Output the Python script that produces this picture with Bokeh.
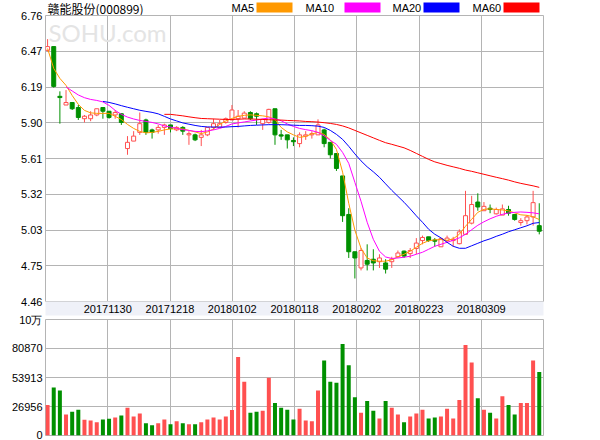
import numpy as np
from bokeh.plotting import figure
from bokeh.models import ColumnDataSource, FixedTicker, Label, Range1d
from bokeh.core.properties import value
from bokeh.layouts import column
from bokeh.embed import file_html
from bokeh.resources import INLINE

TITLE = "赣能股份(000899)"
MA_NAMES = ["MA5", "MA10", "MA20", "MA60"]
DATE_TICK_LABELS = ["20171130", "20171218", "20180102", "20180118", "20180202", "20180223", "20180309"]
PRICE_TICKS = [4.46, 4.7475, 5.035, 5.3225, 5.61, 5.8975, 6.185, 6.4725, 6.76]
PRICE_TICK_LABELS = ["4.46", "4.75", "5.03", "5.32", "5.61", "5.90", "6.19", "6.47", "6.76"]
VOL_TICKS = [0, 26956, 53913, 80870, 107826]
VOL_TICK_LABELS = ["0", "26956", "53913", "80870", "10万"]

OPEN = [6.48, 6.51, 6.11, 6.04, 6.06, 6.02, 5.93, 5.93, 5.96, 6.02,
        5.99, 5.96, 5.97, 5.69, 5.75, 5.82, 5.92, 5.84, 5.84, 5.86,
        5.88, 5.84, 5.86, 5.80, 5.80, 5.78, 5.80, 5.86, 5.86, 5.90,
        5.92, 5.93, 5.935, 5.98, 5.97, 5.89, 5.90, 6.01, 5.80, 5.80,
        5.755, 5.73, 5.79, 5.80, 5.80, 5.84, 5.74, 5.65, 5.47, 5.16,
        4.86, 4.73, 4.79, 4.80, 4.78, 4.77, 4.78, 4.82, 4.865, 4.845,
        4.886, 4.95, 4.98, 4.955, 4.90, 4.95, 4.95, 4.925, 5.00, 5.09,
        5.26, 5.19, 5.21, 5.165, 5.155, 5.20, 5.16, 5.095, 5.11, 5.14,
        5.07]
CLOSE = [6.51, 6.19, 6.10, 6.06, 6.01, 5.94, 5.95, 5.96, 6.01, 5.99,
         5.94, 5.98, 5.90, 5.74, 5.79, 5.89, 5.82, 5.82, 5.86, 5.88,
         5.85, 5.86, 5.83, 5.81, 5.76, 5.80, 5.86, 5.89, 5.89, 5.93,
         6.00, 5.95, 5.975, 5.93, 5.95, 5.925, 6.005, 5.80, 5.79, 5.76,
         5.745, 5.80, 5.80, 5.81, 5.88, 5.73, 5.64, 5.53, 5.15, 4.86,
         4.81, 4.87, 4.76, 4.77, 4.81, 4.72, 4.80, 4.85, 4.825, 4.87,
         4.93, 4.975, 4.95, 4.945, 4.965, 4.97, 4.96, 5.02, 5.15, 5.24,
         5.22, 5.225, 5.20, 5.20, 5.205, 5.17, 5.12, 5.11, 5.14, 5.255,
         5.025]
HIGH = [6.57, 6.51, 6.15, 6.16, 6.06, 6.04, 5.96, 5.99, 6.01, 6.02,
        5.99, 6.00, 5.97, 5.79, 5.83, 5.98, 5.93, 5.85, 5.88, 5.89,
        5.88, 5.87, 5.87, 5.83, 5.81, 5.84, 5.86, 5.93, 5.92, 5.94,
        6.04, 6.00, 5.99, 5.99, 5.98, 5.93, 6.01, 6.01, 5.84, 5.80,
        5.78, 5.82, 5.83, 5.83, 5.925, 5.85, 5.74, 5.65, 5.47, 5.21,
        4.86, 4.89, 4.92, 4.88, 4.84, 4.80, 4.82, 4.87, 4.87, 4.89,
        4.97, 4.99, 4.98, 4.97, 4.97, 4.99, 4.98, 5.04, 5.35, 5.31,
        5.33, 5.26, 5.24, 5.215, 5.24, 5.23, 5.16, 5.13, 5.155, 5.35,
        5.25]
LOW = [6.47, 6.18, 5.89, 6.04, 6.00, 5.92, 5.90, 5.91, 5.95, 5.93,
       5.93, 5.93, 5.88, 5.64, 5.75, 5.80, 5.80, 5.77, 5.81, 5.80,
       5.82, 5.83, 5.80, 5.72, 5.75, 5.71, 5.79, 5.84, 5.86, 5.89,
       5.92, 5.86, 5.935, 5.92, 5.88, 5.84, 5.89, 5.72, 5.76, 5.69,
       5.71, 5.70, 5.76, 5.77, 5.80, 5.70, 5.61, 5.51, 5.10, 4.81,
       4.645, 4.71, 4.71, 4.71, 4.73, 4.685, 4.73, 4.81, 4.81, 4.81,
       4.84, 4.92, 4.94, 4.90, 4.90, 4.93, 4.90, 4.92, 5.00, 5.08,
       5.19, 5.19, 5.17, 5.16, 5.155, 5.15, 5.11, 5.07, 5.08, 5.07,
       5.00]
VOLUME = [28423, 44596, 41900, 19438, 22133, 23930, 14646, 14047, 12250, 14945,
          15544, 16742, 18539, 25727, 17641, 20336, 11351, 9554, 11351, 14945,
          10453, 13148, 11351, 10453, 10453, 12250, 14945, 16742, 14945, 17641,
          23631, 73048, 49987, 21235, 22133, 23032, 53581, 30220, 25727, 23930,
          14945, 24829, 14047, 13148, 41900, 69754, 49987, 49088, 85028, 65261,
          35611, 21235, 32017, 23032, 15844, 32017, 25727, 19438, 12250, 17641,
          20336, 23930, 15844, 16742, 17641, 24829, 15844, 32915, 84130, 67957,
          34712, 23930, 21235, 15844, 36509, 28423, 19438, 30220, 30220, 69754,
          58972]
MA5 = [6.495, 6.334, 6.254, 6.198, 6.117, 6.045, 5.997, 5.977, 5.973, 5.973,
       5.973, 5.949, 5.924, 5.884, 5.852, 5.828, 5.816, 5.820, 5.828, 5.840,
       5.848, 5.848, 5.848, 5.836, 5.824, 5.810, 5.824, 5.848, 5.884, 5.912,
       5.932, 5.949, 5.957, 5.961, 5.957, 5.953, 5.945, 5.924, 5.860, 5.824,
       5.800, 5.780, 5.788, 5.808, 5.820, 5.804, 5.760, 5.683, 5.500, 5.250,
       5.033, 4.888, 4.810, 4.788, 4.784, 4.784, 4.796, 4.820, 4.840, 4.864,
       4.896, 4.928, 4.948, 4.956, 4.958, 4.952, 4.964, 5.001, 5.065, 5.121,
       5.177, 5.201, 5.205, 5.200, 5.196, 5.189, 5.173, 5.157, 5.153, 5.141,
       5.119]
MA10 = [None, None, None, 6.186, 6.153, 6.121, 6.099, 6.085, 6.077, 6.065,
        6.037, 5.997, 5.965, 5.943, 5.928, 5.916, 5.908, 5.900, 5.888, 5.872,
        5.863, 5.852, 5.842, 5.836, 5.828, 5.826, 5.832, 5.840, 5.852, 5.868,
        5.888, 5.896, 5.904, 5.912, 5.919, 5.928, 5.936, 5.928, 5.914, 5.888,
        5.868, 5.852, 5.842, 5.834, 5.820, 5.792, 5.756, 5.724, 5.659, 5.571,
        5.418, 5.266, 5.097, 4.960, 4.864, 4.818, 4.806, 4.810, 4.816, 4.824,
        4.840, 4.856, 4.880, 4.904, 4.920, 4.936, 4.952, 4.972, 5.001, 5.037,
        5.073, 5.101, 5.125, 5.145, 5.161, 5.172, 5.177, 5.180, 5.177, 5.173,
        5.165]
MA20 = [None, None, None, None, None, None, None, None, None, 6.069,
        6.061, 6.049, 6.035, 6.022, 6.010, 5.998, 5.989, 5.981, 5.969, 5.949,
        5.928, 5.912, 5.896, 5.886, 5.876, 5.868, 5.864, 5.863, 5.863, 5.863,
        5.866, 5.868, 5.872, 5.876, 5.878, 5.880, 5.882, 5.882, 5.882, 5.880,
        5.878, 5.876, 5.876, 5.874, 5.870, 5.860, 5.836, 5.804, 5.764, 5.708,
        5.647, 5.591, 5.543, 5.503, 5.459, 5.406, 5.354, 5.306, 5.258, 5.205,
        5.149, 5.097, 5.041, 5.001, 4.972, 4.936, 4.904, 4.888, 4.888, 4.908,
        4.928, 4.948, 4.964, 4.984, 5.001, 5.021, 5.037, 5.053, 5.069, 5.089,
        5.095]
MA60 = [None, None, None, None, None, None, None, None, None, None,
        None, None, None, None, None, None, None, None, None, 5.965,
        5.965, 5.959, 5.953, 5.945, 5.938, 5.932, 5.930, 5.928, 5.926, 5.924,
        5.924, 5.926, 5.928, 5.928, 5.926, 5.924, 5.922, 5.920, 5.919, 5.916,
        5.914, 5.912, 5.908, 5.906, 5.903, 5.898, 5.892, 5.884, 5.872, 5.856,
        5.836, 5.816, 5.796, 5.776, 5.756, 5.737, 5.724, 5.710, 5.696, 5.675,
        5.651, 5.627, 5.603, 5.583, 5.569, 5.555, 5.543, 5.531, 5.517, 5.507,
        5.495, 5.483, 5.471, 5.459, 5.448, 5.436, 5.422, 5.410, 5.400, 5.390,
        5.378]

# ---- styles ----
RED = "#ff5050"
GREEN = "#009000"
MA_COLORS = ["#ff9900", "#ff00ff", "#0000ff", "#ff0000"]
GRID = "#b4b4b4"
BAND = "#eff1f8"
NUM_FONT = "Liberation Sans"
CJK_FONT = "Noto Sans CJK SC"

N = len(CLOSE)
idx = list(range(N))
up = [c >= o for o, c in zip(OPEN, CLOSE)]
col = [RED if u else GREEN for u in up]
fill = ["#ffffff" if u else GREEN for u in up]
src = ColumnDataSource(dict(
    x=idx, high=HIGH, low=LOW,
    top=[max(o, c) for o, c in zip(OPEN, CLOSE)],
    bottom=[min(o, c) for o, c in zip(OPEN, CLOSE)],
    color=col, fill=fill, vol=VOLUME))

X_START, X_END = -0.34, 80.69
STEP = (X_END - X_START) / 8
X_GRID = [X_START + k * STEP for k in range(1, 8)]
xr = Range1d(X_START, X_END)


def style_axis(ax):
    ax.axis_line_color = None
    ax.major_tick_out = 0
    ax.major_tick_in = 0
    ax.minor_tick_out = 0
    ax.minor_tick_in = 0
    ax.major_label_text_font = NUM_FONT
    ax.major_label_text_font_size = "11px"
    ax.major_label_text_color = "black"
    ax.major_label_standoff = 3


# ---- header strip: title and legend (pixel-like coordinates of the strip) ----
p0 = figure(frame_width=498, frame_height=15, x_range=Range1d(45, 543), y_range=Range1d(15, 0),
            output_backend="svg", toolbar_location=None,
            min_border_left=45, min_border_right=57, min_border_top=0, min_border_bottom=0,
            x_axis_location=None, y_axis_location=None)
p0.grid.visible = False
p0.outline_line_color = None
p0.text(x=[47], y=[7.5], text=[TITLE], text_font=value(CJK_FONT), text_font_size="12px",
        text_baseline="middle", text_align="left", text_color="black")
LEG_TEXT_X = [231, 305, 392, 472]
LEG_LEFT = [256, 344, 423, 503]
LEG_RIGHT = [292, 380, 459, 539]
p0.text(x=LEG_TEXT_X, y=[7.5] * 4, text=MA_NAMES, text_font=value(NUM_FONT), text_font_size="11px",
        text_baseline="middle", text_align="left", text_color="black")
p0.quad(left=LEG_LEFT, right=LEG_RIGHT, top=[2] * 4, bottom=[12] * 4,
        fill_color=MA_COLORS, line_color=None)

# ---- price panel ----
p1 = figure(frame_width=498, frame_height=286, x_range=xr, y_range=Range1d(4.46, 6.76),
            output_backend="svg", toolbar_location=None,
            min_border_left=45, min_border_right=57, min_border_top=6, min_border_bottom=18)
p1.margin = (-6, 0, 0, 0)
p1.border_fill_color = None
p1.outline_line_color = GRID
p1.xgrid.ticker = FixedTicker(ticks=X_GRID)
p1.ygrid.ticker = FixedTicker(ticks=PRICE_TICKS)
p1.grid.grid_line_color = GRID
style_axis(p1.xaxis[0])
style_axis(p1.yaxis[0])
p1.yaxis.ticker = FixedTicker(ticks=PRICE_TICKS)
p1.yaxis.major_label_overrides = dict(zip(PRICE_TICKS, PRICE_TICK_LABELS))
p1.xaxis.ticker = FixedTicker(ticks=X_GRID)
p1.xaxis.major_label_overrides = dict(zip(X_GRID, DATE_TICK_LABELS))
p1.xaxis.background_fill_color = BAND

p1.add_layout(Label(x=0.15, y=6.62, text="SOHU.com", text_font="Lato", text_font_size="24px",
                    text_color="#e4e4e4", text_baseline="middle", text_align="left",
                    level="underlay"))

p1.segment(x0="x", y0="high", x1="x", y1="low", line_color="color", line_width=1, source=src)
p1.vbar(x="x", width=0.65, top="top", bottom="bottom", fill_color="fill",
        line_color="color", line_width=1, source=src)
for ma, c in zip([MA5, MA10, MA20, MA60], MA_COLORS):
    p1.line(idx, np.array(ma, dtype=float), line_color=c, line_width=1)

# ---- volume panel ----
p2 = figure(frame_width=498, frame_height=116, x_range=xr, y_range=Range1d(0, 107826),
            output_backend="svg", toolbar_location=None,
            min_border_left=45, min_border_right=57, min_border_top=6, min_border_bottom=5)
p2.margin = (-6, 0, 0, 0)
p2.border_fill_color = None
p2.outline_line_color = GRID
p2.xaxis.visible = False
p2.xgrid.ticker = FixedTicker(ticks=X_GRID)
p2.ygrid.ticker = FixedTicker(ticks=VOL_TICKS)
p2.grid.grid_line_color = GRID
style_axis(p2.yaxis[0])
p2.yaxis.ticker = FixedTicker(ticks=VOL_TICKS)
p2.yaxis.major_label_overrides = dict(zip(VOL_TICKS, VOL_TICK_LABELS))
p2.vbar(x="x", width=0.65, top="vol", bottom=0, fill_color="color", line_color=None, source=src)

layout = column(p0, p1, p2, spacing=0)
open("out.html", "w").write(file_html(layout, INLINE))
